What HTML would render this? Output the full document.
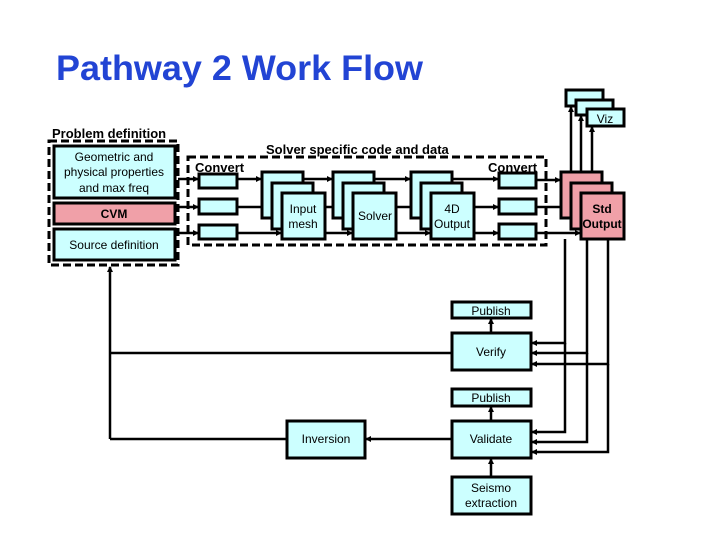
<!DOCTYPE html>
<html><head><meta charset="utf-8"><style>
body{margin:0;background:#fff}
svg{display:block}
text{font-family:"Liberation Sans",sans-serif;font-size:12px}
.b{font-weight:bold}
</style></head><body>
<svg width="720" height="540" viewBox="0 0 720 540" xmlns="http://www.w3.org/2000/svg">
<defs><marker id="a" markerWidth="6" markerHeight="6" refX="5" refY="3" orient="auto" markerUnits="userSpaceOnUse"><path d="M0,0 L6,3 L0,6z" fill="#000"/></marker></defs>
<text x="56" y="80" style="font-size:35px;font-weight:bold;fill:#2244D4" textLength="367" lengthAdjust="spacingAndGlyphs">Pathway 2 Work Flow</text>

<g fill="none" stroke="#000" stroke-width="3" stroke-dasharray="8,4">
<rect x="49" y="141" width="129" height="124"/>
<rect x="188" y="157" width="358" height="88"/>
</g>
<text x="52" y="138" class="b" style="font-size:13px">Problem definition</text>
<text x="266" y="154" class="b" style="font-size:13px">Solver specific code and data</text>
<text x="195" y="172" class="b" style="font-size:13px">Convert</text>
<text x="488" y="172" class="b" style="font-size:13px">Convert</text>

<g stroke="#000" stroke-width="2.5" fill="none" marker-end="url(#a)">
<path d="M178 179H198"/><path d="M178 207H198"/><path d="M178 233H198"/>
<path d="M237 179H261"/><path d="M237 207H271"/><path d="M237 233H281"/>
<path d="M303 179H332"/><path d="M313 207H342"/><path d="M325 233H352"/>
<path d="M374 179H410"/><path d="M384 207H420"/><path d="M396 233H430"/>
<path d="M452 179H498"/><path d="M462 207H498"/><path d="M474 233H498"/>
<path d="M536 180H560"/><path d="M536 207H570"/><path d="M536 233H580"/>
<path d="M571 172V107"/><path d="M581 183V116"/><path d="M592 193V127"/>
<path d="M565 239V343H532"/><path d="M587 239V353H532"/><path d="M608 239V364H532"/>
<path d="M565 343V432H532"/><path d="M587 353V442H532"/><path d="M608 364V452H532"/>
<path d="M491 333V319"/><path d="M491 421V407"/><path d="M491 477V459"/>
<path d="M452 439H366"/>
<path d="M110 439V267"/>
</g>
<g stroke="#000" stroke-width="2.5" fill="none">
<path d="M452 353H110"/><path d="M110 439H287"/>
</g>

<g stroke="#000" stroke-width="3" fill="#CCFFFF">
<rect x="54" y="146" width="121" height="52"/>
<rect x="54" y="203" width="121" height="21" fill="#F0A0A8"/>
<rect x="54" y="229" width="121" height="31"/>
<rect x="199" y="174" width="38" height="14"/>
<rect x="199" y="199" width="38" height="15"/>
<rect x="199" y="225" width="38" height="14"/>
<rect x="262" y="172" width="41" height="46"/>
<rect x="272" y="183" width="41" height="46"/>
<rect x="282" y="193" width="43" height="46"/>
<rect x="333" y="172" width="41" height="46"/>
<rect x="343" y="183" width="41" height="46"/>
<rect x="353" y="193" width="43" height="46"/>
<rect x="411" y="172" width="41" height="46"/>
<rect x="421" y="183" width="41" height="46"/>
<rect x="431" y="193" width="43" height="46"/>
<rect x="499" y="173" width="37" height="15"/>
<rect x="499" y="199" width="37" height="15"/>
<rect x="499" y="224" width="37" height="15"/>
<rect x="561" y="172" width="41" height="46" fill="#F0A0A8"/>
<rect x="571" y="183" width="41" height="46" fill="#F0A0A8"/>
<rect x="581" y="193" width="43" height="46" fill="#F0A0A8"/>
<rect x="566" y="90" width="37" height="16"/>
<rect x="576" y="100" width="37" height="15"/>
<rect x="587" y="109" width="37" height="17"/>
<rect x="452" y="302" width="79" height="16"/>
<rect x="452" y="333" width="79" height="37"/>
<rect x="452" y="389" width="79" height="17"/>
<rect x="452" y="421" width="79" height="37"/>
<rect x="452" y="477" width="79" height="37"/>
<rect x="287" y="421" width="78" height="37"/>
</g>

<g text-anchor="middle">
<text x="114" y="161">Geometric and</text>
<text x="114" y="176">physical properties</text>
<text x="114" y="192">and max freq</text>
<text x="114" y="218" class="b">CVM</text>
<text x="114" y="249">Source definition</text>
<text x="303" y="213">Input</text>
<text x="303" y="228">mesh</text>
<text x="375" y="220">Solver</text>
<text x="452" y="213">4D</text>
<text x="452" y="228">Output</text>
<text x="602" y="213" class="b">Std</text>
<text x="602" y="228" class="b">Output</text>
<text x="605" y="123">Viz</text>
<text x="491" y="315">Publish</text>
<text x="491" y="356">Verify</text>
<text x="491" y="402">Publish</text>
<text x="491" y="443">Validate</text>
<text x="491" y="492">Seismo</text>
<text x="491" y="507">extraction</text>
<text x="326" y="443">Inversion</text>
</g>
</svg>
</body></html>
